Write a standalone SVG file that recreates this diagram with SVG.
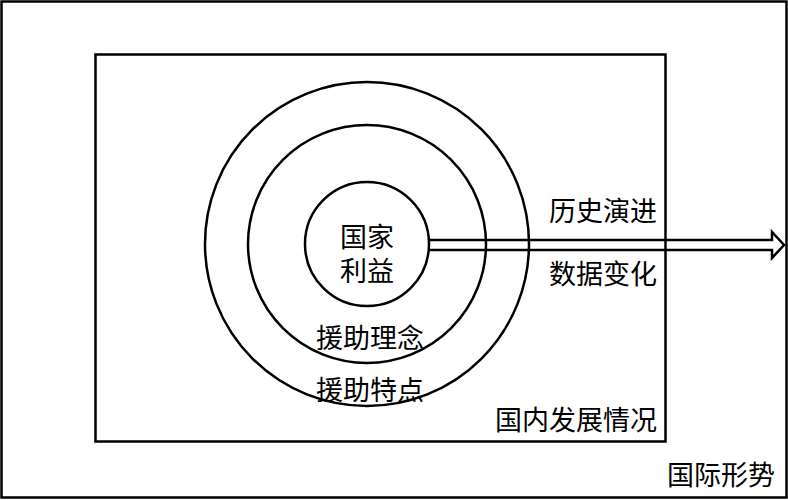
<svg xmlns="http://www.w3.org/2000/svg" width="788" height="500" viewBox="0 0 788 500">
  <style>
    .frame { fill: none; stroke: #000; stroke-width: 2.5; }
    .ring { fill: none; stroke: #000; stroke-width: 2.5; }
    .label { font-family: "Liberation Serif", "Noto Sans CJK SC", serif; font-size: 27px; fill: #000; }
    .mid { text-anchor: middle; }
  </style>
  <rect width="788" height="500" fill="#fff"/>

  <g id="international">
    <rect class="frame" x="1.5" y="1.5" width="785" height="496"/>
    <text class="label" x="667" y="485">国际形势</text>
  </g>

  <g id="domestic">
    <rect class="frame" x="95.5" y="54.5" width="570" height="387"/>
    <text class="label" x="495" y="430">国内发展情况</text>
  </g>

  <g id="aid-features">
    <circle class="ring" cx="367" cy="244" r="162"/>
    <text class="label mid" x="370" y="400">援助特点</text>
  </g>

  <g id="aid-philosophy">
    <circle class="ring" cx="367" cy="244" r="119"/>
    <text class="label mid" x="370" y="348">援助理念</text>
  </g>

  <g id="national-interest">
    <circle class="ring" cx="367" cy="244" r="62"/>
    <text class="label mid" x="367" y="247">国家</text>
    <text class="label mid" x="367" y="281">利益</text>
  </g>

  <g id="connectors">
    <!-- hollow outline arrow; rings and frame stay visible through the shaft -->
    <path d="M429 240 H772 V232 L784 245 L772 258 V250 H429" fill="none" stroke="#000" stroke-width="2.5" stroke-linejoin="miter"/>
  </g>

  <g id="arrow-labels">
    <text class="label" x="549" y="221">历史演进</text>
    <text class="label" x="549" y="284">数据变化</text>
  </g>
</svg>
